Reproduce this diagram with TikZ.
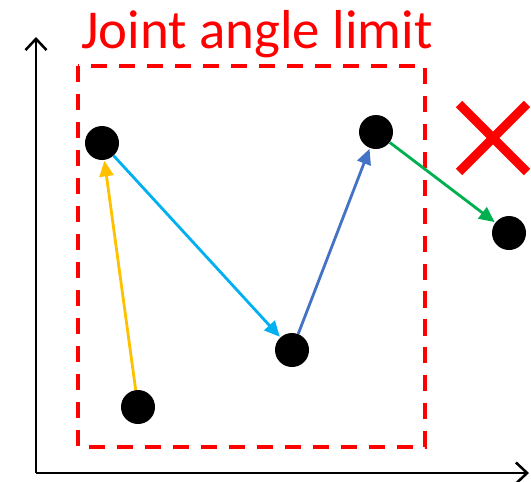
\documentclass[tikz,border=0pt]{standalone}
\usepackage{fontspec}
\setmainfont{Carlito}
\usepackage{xcolor}
\usetikzlibrary{arrows.meta, positioning}

\definecolor{limitred}{HTML}{FF0000}
\definecolor{stepyellow}{HTML}{FFC000}
\definecolor{stepcyan}{HTML}{00B0F0}
\definecolor{stepblue}{HTML}{4472C4}
\definecolor{stepgreen}{HTML}{00B050}

\begin{document}
\begin{tikzpicture}[
    x=0.025cm, y=-0.025cm,
    dot/.style={circle, fill=black, inner sep=0pt, minimum size=0.85cm},
    axis/.style={line width=1.8pt, -{Straight Barb[length=8pt, width=15pt, line width=1.8pt]}},
    arrow/.style={line width=2pt, -{Triangle[length=11pt, width=10pt]}, shorten >=0.5pt},
    limit/.style={draw=limitred, line width=2.5pt, dash pattern=on 11.4pt off 8.5pt},
    label/.style={text=limitred, font=\fontsize{39}{44}\selectfont, inner sep=0pt}
]
\useasboundingbox (0,0) rectangle (531,481);

% Axes
\coordinate (origin) at (36,473);
\coordinate (ytop) at (36,37);
\coordinate (xend) at (529,473);
\draw[axis] (origin) -- (ytop);
\draw[axis] (origin) -- (xend);

% Joint angle limit
\draw[limit] (78,66) rectangle (425,447);
\node[label, anchor=base] (title) at (257,48) {Joint angle limit};

% Joint states
\node[dot] (p0) at (138,407) {};
\node[dot] (p1) at (102,143) {};
\node[dot] (p2) at (292,350) {};
\node[dot] (p3) at (376,132) {};
\node[dot] (p4) at (509,233) {};

% Steps
\draw[arrow, stepyellow] (p0) -- (p1);
\draw[arrow, stepcyan] (p1) -- (p2);
\draw[arrow, stepblue] (p2) -- (p3);
\draw[arrow, stepgreen] (p3) -- (p4);

% Rejected
\draw[limitred, line width=6.5pt] (459,104) -- (527,172) (459,172) -- (527,104);

\end{tikzpicture}
\end{document}
